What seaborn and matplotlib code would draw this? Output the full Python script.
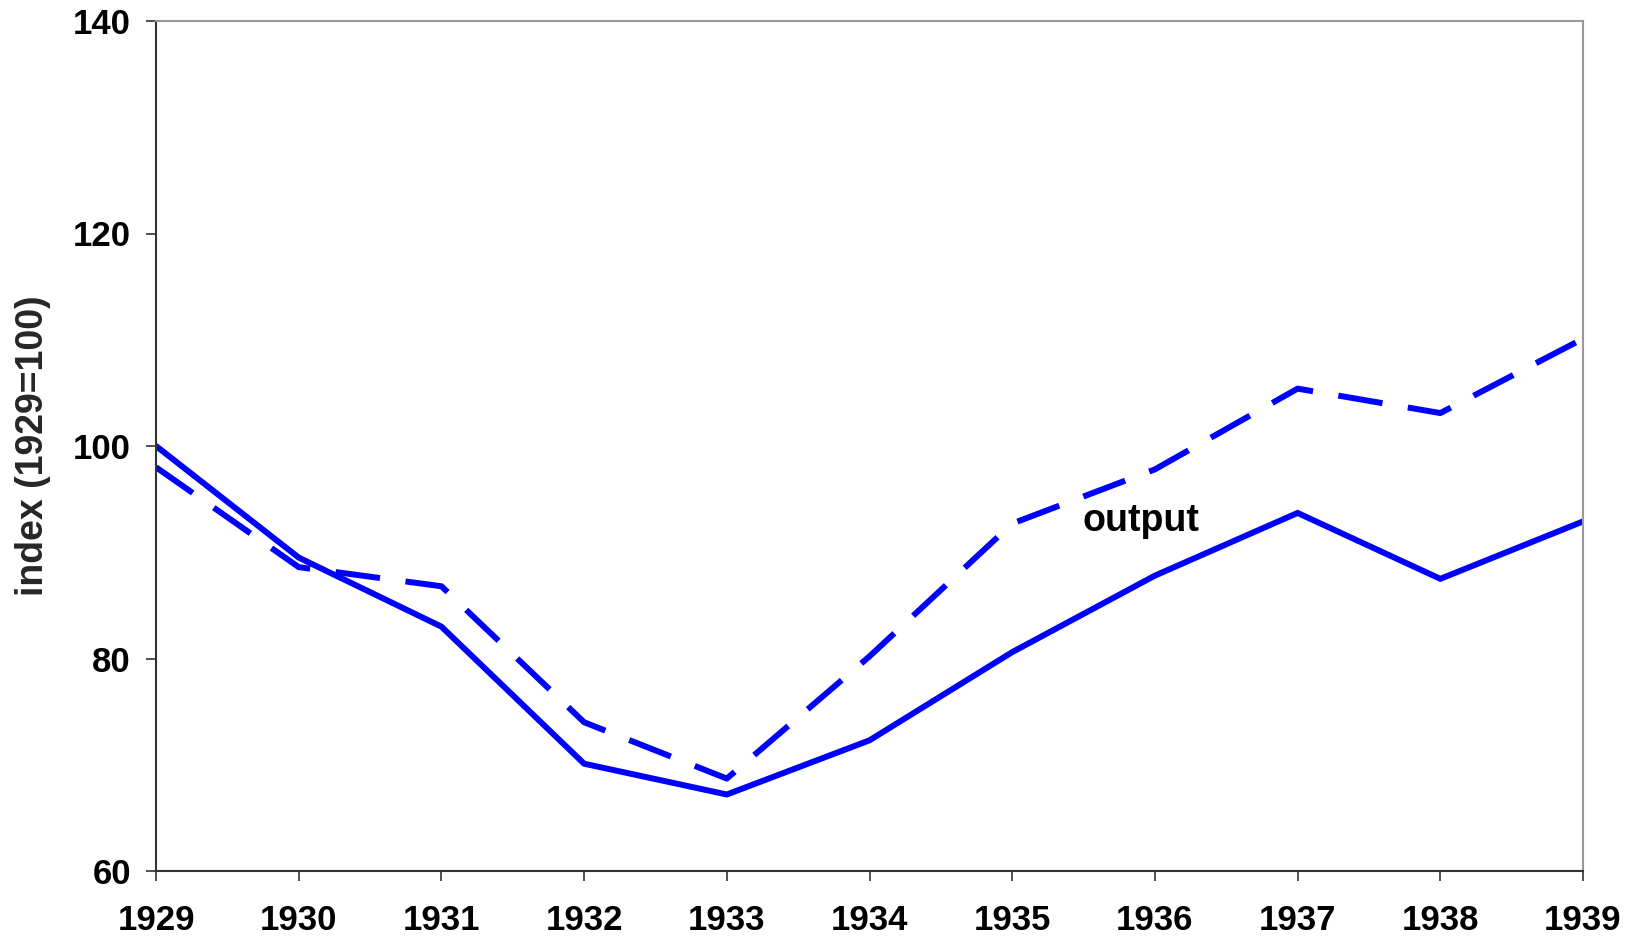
import matplotlib
matplotlib.use("Agg")
import matplotlib.pyplot as plt
import seaborn as sns
import pandas as pd

years = [1929, 1930, 1931, 1932, 1933, 1934, 1935, 1936, 1937, 1938, 1939]
solid_values = [100.0, 89.5, 83.0, 70.1, 67.2, 72.3, 80.6, 87.8, 93.7, 87.5, 92.9]
output_values = [98.0, 88.6, 86.8, 74.0, 68.7, 80.2, 92.7, 97.8, 105.4, 103.1, 110.1]
series_names = ["index", "output"]
y_ticks = [60, 80, 100, 120, 140]
label_text = "output"
y_label = "index (1929=100)"

df = pd.DataFrame({
    "year": years * 2,
    "value": solid_values + output_values,
    "series": [series_names[0]] * len(years) + [series_names[1]] * len(years),
})

sns.set_theme(style="white")
plt.rcParams['font.family'] = ['Liberation Sans', 'DejaVu Sans']

fig = plt.figure(figsize=(16.33, 9.41), dpi=100)
ax = fig.add_axes([156/1633, 1 - 871/941, (1583-156)/1633, (871-21)/941])

sns.lineplot(data=df, x="year", y="value", style="series",
             dashes={series_names[0]: "", series_names[1]: (7.5, 4.3)},
             color="#0000FF", linewidth=4.3, legend=False, ax=ax)
for ln in ax.get_lines():
    ln.set_dash_capstyle("butt")
    ln.set_solid_joinstyle("miter")

ax.set_xlim(years[0], years[-1])
ax.set_ylim(y_ticks[0], y_ticks[-1])
ax.set_xticks(years)
ax.set_xticklabels([str(y) for y in years])
ax.set_yticks(y_ticks)
ax.set_xlabel("")
ax.set_ylabel(y_label, fontsize=27, fontweight="bold", labelpad=16)

ax.tick_params(axis="both", which="major", direction="out", length=7, width=1.2,
               colors="#333333", labelcolor="black", labelsize=25, bottom=True, left=True)
ax.tick_params(axis="x", pad=17)
ax.tick_params(axis="y", pad=11)
for lab in ax.get_xticklabels() + ax.get_yticklabels():
    lab.set_fontweight("bold")

for side in ["left", "bottom"]:
    ax.spines[side].set_color("#333333")
    ax.spines[side].set_linewidth(1.5)
for side in ["top", "right"]:
    ax.spines[side].set_color("#999999")
    ax.spines[side].set_linewidth(1.5)

ax.text(1935.9, 92.9, label_text, fontsize=27, fontweight="bold",
        ha="center", va="center", color="black")

fig.savefig("out.png", dpi=100)
